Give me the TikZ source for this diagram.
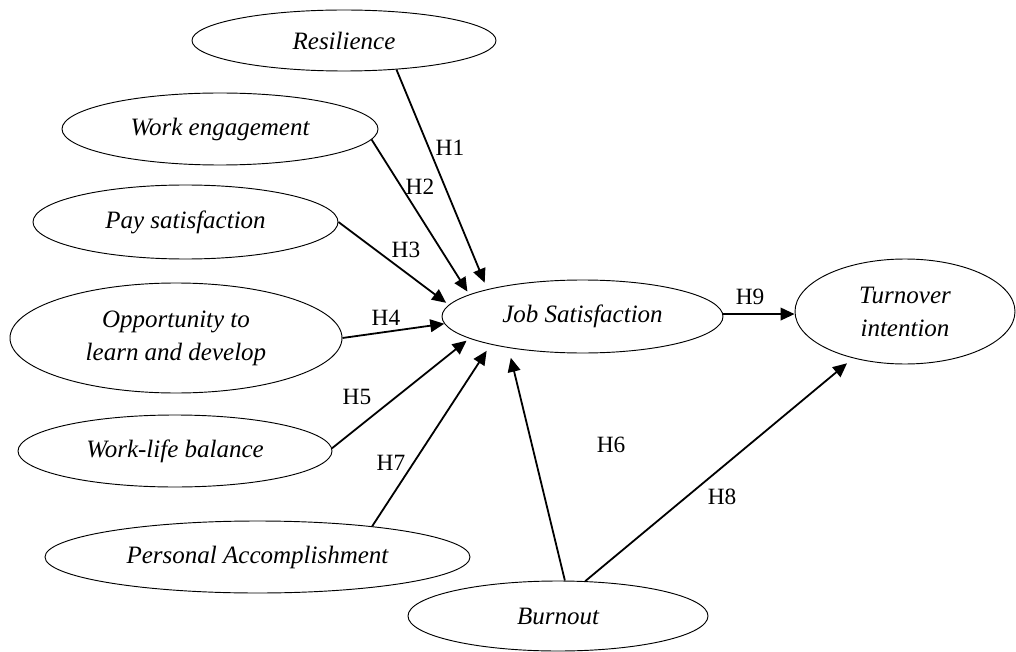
\documentclass[tikz,border=0pt]{standalone}
\usepackage{fontspec}
\setmainfont{Liberation Serif}
\usetikzlibrary{arrows.meta,shapes.geometric}
\begin{document}
\begin{tikzpicture}[x=0.75pt,y=-0.75pt,
  lat/.style={ellipse,draw,line width=0.7pt,inner sep=0pt,align=center,
    font=\fontsize{18.75}{24.75}\selectfont\itshape},
  hpath/.style={-{Triangle[length=10.5pt,width=9.5pt]},line width=1.35pt},
  hlab/.style={font=\fontsize{17.5}{20}\selectfont}]
\useasboundingbox (0,0) rectangle (1016,652);
% constructs
\node[lat,minimum width=228pt,minimum height=45.75pt] (res) at (344,40.5) {Resilience};
\node[lat,minimum width=237pt,minimum height=54pt] (we) at (220,129) {Work engagement};
\node[lat,minimum width=228.75pt,minimum height=55.5pt] (ps) at (185.5,222) {Pay satisfaction};
\node[lat,minimum width=249pt,minimum height=82.5pt] (opp) at (176,338) {Opportunity to\\learn and develop};
\node[lat,minimum width=235.5pt,minimum height=54pt] (wlb) at (175,451) {Work-life balance};
\node[lat,minimum width=318.75pt,minimum height=54pt] (pa) at (257.5,557) {Personal Accomplishment};
\node[lat,minimum width=210.75pt,minimum height=54.75pt] (js) at (582.5,316.5) {Job Satisfaction};
\node[lat,minimum width=165pt,minimum height=78.75pt] (to) at (905,311.5) {Turnover\\intention};
\node[lat,minimum width=225pt,minimum height=52.5pt] (bo) at (558,616) {Burnout};
% paths
\draw[hpath,shorten >=5.3pt] (res.-29) -- (js.164);
\draw[hpath,shorten >=2.6pt] (we.-4) -- (js.169);
\draw[hpath,shorten >=2.5pt] (ps.0) -- (js.175);
\draw[hpath] (opp.0) -- (js.183);
\draw[hpath,shorten >=2.6pt] (wlb.1) -- (js.191);
\draw[hpath,shorten >=7.6pt] (bo.79) -- (js.203);
\draw[hpath,shorten >=5.6pt] (pa.15) -- (js.197);
\draw[hpath,shorten >=5.9pt] (bo.52) -- (to.222);
\draw[hpath] (js.1) -- (js.1 -| to.west);
% labels
\node[hlab] (h1) at (450,148) {H1};
\node[hlab] (h2) at (420,187) {H2};
\node[hlab] (h3) at (406,250) {H3};
\node[hlab] (h4) at (386,318) {H4};
\node[hlab] (h5) at (357,397) {H5};
\node[hlab] (h6) at (611,445) {H6};
\node[hlab] (h7) at (391,463) {H7};
\node[hlab] (h8) at (722,497) {H8};
\node[hlab] (h9) at (750,297) {H9};
\end{tikzpicture}
\end{document}
